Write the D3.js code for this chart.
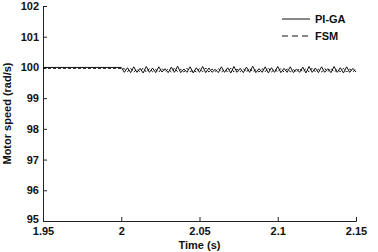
<!DOCTYPE html>
<html>
<head>
<meta charset="utf-8">
<script src="https://cdn.jsdelivr.net/npm/d3@7"></script>
<style>
  body { margin: 0; background: #fff; }
  text { font-family: "Liberation Sans", Arial, sans-serif; font-weight: bold; }
</style>
</head>
<body>
<div id="chart"></div>
<script>
// time samples (s)
const time = [1.95,
  2.000, 2.002, 2.004, 2.006, 2.008, 2.010, 2.012, 2.014, 2.016, 2.018,
  2.020, 2.022, 2.024, 2.026, 2.028, 2.030, 2.032, 2.034, 2.036, 2.038,
  2.040, 2.042, 2.044, 2.046, 2.048, 2.050, 2.052, 2.054, 2.056, 2.058,
  2.060, 2.062, 2.064, 2.066, 2.068, 2.070, 2.072, 2.074, 2.076, 2.078,
  2.080, 2.082, 2.084, 2.086, 2.088, 2.090, 2.092, 2.094, 2.096, 2.098,
  2.100, 2.102, 2.104, 2.106, 2.108, 2.110, 2.112, 2.114, 2.116, 2.118,
  2.120, 2.122, 2.124, 2.126, 2.128, 2.130, 2.132, 2.134, 2.136, 2.138,
  2.140, 2.142, 2.144, 2.146, 2.148, 2.150];

// PI-GA motor speed (rad/s)
const piGA = [100.00,
  100.00, 99.84, 99.99, 99.83, 100.02, 99.84, 99.97, 99.82, 100.03, 99.84,
  99.98, 99.83, 100.02, 99.85, 99.96, 99.83, 100.01, 99.84, 100.04, 99.83,
  99.95, 99.84, 100.02, 99.82, 99.99, 99.84, 100.03, 99.83, 99.98, 99.84,
  99.94, 99.83, 100.02, 99.84, 99.99, 99.82, 100.03, 99.84, 99.97, 99.83,
  100.01, 99.84, 100.04, 99.83, 99.96, 99.84, 100.02, 99.82, 99.99, 99.84,
  100.03, 99.83, 99.97, 99.84, 100.02, 99.83, 99.95, 99.84, 100.01, 99.82,
  100.03, 99.84, 99.98, 99.83, 100.02, 99.84, 99.96, 99.83, 100.03, 99.84,
  99.99, 99.82, 100.02, 99.84, 99.97, 99.85];

// FSM motor speed (rad/s)
const fsm = [99.97,
  99.97, 99.95, 99.86, 99.97, 99.85, 99.94, 99.86, 99.98, 99.85, 99.96,
  99.86, 99.93, 99.85, 99.97, 99.86, 99.95, 99.85, 99.98, 99.86, 99.94,
  99.85, 99.97, 99.86, 99.92, 99.85, 99.96, 99.86, 99.98, 99.85, 99.95,
  99.86, 99.97, 99.85, 99.93, 99.86, 99.98, 99.85, 99.94, 99.86, 99.96,
  99.85, 99.97, 99.86, 99.92, 99.85, 99.96, 99.86, 99.98, 99.85, 99.94,
  99.86, 99.97, 99.85, 99.95, 99.86, 99.93, 99.85, 99.97, 99.86, 99.96,
  99.85, 99.98, 99.86, 99.94, 99.85, 99.96, 99.86, 99.97, 99.85, 99.93,
  99.86, 99.97, 99.85, 99.95, 99.86, 99.94];

const xTicks = [1.95, 2, 2.05, 2.1, 2.15];
const yTicks = [95, 96, 97, 98, 99, 100, 101, 102];

const margin = {top: 6, right: 22, bottom: 31, left: 43},
      width = 378 - margin.left - margin.right,
      height = 252 - margin.top - margin.bottom;

const svg = d3.select("#chart")
  .append("svg")
  .attr("width", 378)
  .attr("height", 252)
  .append("g")
  .attr("transform", `translate(${margin.left}, ${margin.top})`);

const x = d3.scaleLinear().domain([1.95, 2.15]).range([0, width]);
const y = d3.scaleLinear().domain([95, 102]).range([height, 0]);

// axes, ticks pointing inward
const xAxis = svg.append("g")
  .attr("transform", `translate(0, ${height})`)
  .call(d3.axisBottom(x).tickValues(xTicks).tickFormat(d3.format("")).tickSize(-4).tickPadding(6));
const yAxis = svg.append("g")
  .call(d3.axisLeft(y).tickValues(yTicks).tickFormat(d3.format("d")).tickSize(-4).tickPadding(4));

[xAxis, yAxis].forEach(a => {
  a.select(".domain").attr("stroke", "#222");
  a.selectAll(".tick line").attr("stroke", "#222");
  a.selectAll(".tick text").attr("font-size", 11).attr("font-weight", "bold")
    .attr("font-family", "Liberation Sans, Arial, sans-serif").attr("fill", "#111");
});
// lift the bottom label a little so it clears "1.95"
yAxis.selectAll(".tick text").filter(d => d === 95).attr("dy", "0.15em");

const line = d3.line()
  .x((d, i) => x(time[i]))
  .y(d => y(d));

svg.append("path")
  .datum(fsm)
  .attr("fill", "none")
  .attr("stroke", "#111")
  .attr("stroke-width", 1)
  .attr("stroke-dasharray", "3,2")
  .attr("d", line);

svg.append("path")
  .datum(piGA)
  .attr("fill", "none")
  .attr("stroke", "#111")
  .attr("stroke-width", 1)
  .attr("d", line);

// axis titles
svg.append("text")
  .attr("x", width / 2)
  .attr("y", height + 28)
  .attr("text-anchor", "middle")
  .attr("font-size", 11)
  .attr("fill", "#111")
  .text("Time (s)");

svg.append("text")
  .attr("transform", `translate(${-32}, ${height / 2}) rotate(-90)`)
  .attr("text-anchor", "middle")
  .attr("font-size", 11)
  .attr("fill", "#111")
  .text("Motor speed (rad/s)");

// legend
const legend = [
  {name: "PI-GA", dash: null},
  {name: "FSM", dash: "6,4"}
];
const lg = svg.append("g").attr("transform", "translate(239, 13)");
legend.forEach((d, i) => {
  lg.append("line")
    .attr("x1", 0).attr("x2", 28)
    .attr("y1", i * 17).attr("y2", i * 17)
    .attr("stroke", "#111")
    .attr("stroke-width", 1)
    .attr("stroke-dasharray", d.dash);
  lg.append("text")
    .attr("x", 33)
    .attr("y", i * 17 + 4)
    .attr("font-size", 11)
    .attr("fill", "#111")
    .text(d.name);
});
</script>
</body>
</html>
